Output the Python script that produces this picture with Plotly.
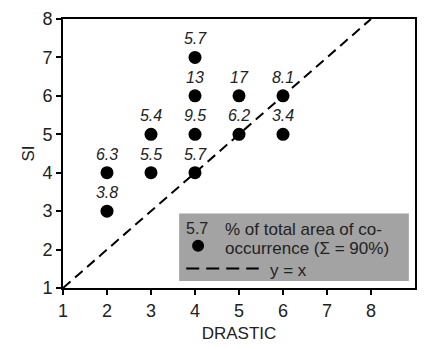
import plotly.graph_objects as go

drastic = [2, 2, 3, 3, 4, 4, 4, 4, 5, 5, 6, 6]
si = [4, 3, 5, 4, 7, 6, 5, 4, 6, 5, 6, 5]
pct = ["6.3", "3.8", "5.4", "5.5", "5.7", "13", "9.5", "5.7", "17", "6.2", "8.1", "3.4"]
line_xy = [1, 8]
x_ticks = [1, 2, 3, 4, 5, 6, 7, 8]
y_ticks = [1, 2, 3, 4, 5, 6, 7, 8]

font_main = "Liberation Sans, Arial, sans-serif"
txt = "#222"

fig = go.Figure()
fig.add_trace(go.Scatter(x=line_xy, y=line_xy, mode="lines",
                         line=dict(color="black", width=2, dash="10px,6px"),
                         showlegend=False, hoverinfo="skip"))
fig.add_trace(go.Scatter(x=drastic, y=si, mode="markers+text", text=pct,
                         textposition="top center",
                         textfont=dict(family=font_main, size=16, color=txt,
                                       style="italic"),
                         marker=dict(color="black", size=13),
                         showlegend=False, cliponaxis=False))

# legend box (decoration)
fig.add_shape(type="rect", xref="x", yref="y", x0=3.64, x1=8.86, y0=1.18, y1=2.94,
              fillcolor="#a3a3a3", line=dict(width=0), layer="below")
fig.add_shape(type="line", xref="x", yref="y", x0=3.80, x1=5.45, y0=1.51, y1=1.51,
              line=dict(color="black", width=2, dash="13px,7px"))
fig.add_shape(type="circle", xref="x", yref="y", xsizemode="pixel", ysizemode="pixel",
              xanchor=4.07, yanchor=2.10, x0=-6, x1=6, y0=-6, y1=6,
              fillcolor="black", line=dict(width=0))
fig.add_annotation(x=4.04, y=2.55, xref="x", yref="y", text="5.7", showarrow=False,
                   font=dict(size=16, color=txt, family=font_main))
fig.add_annotation(x=4.64, y=2.53, xref="x", yref="y",
                   text="% of total area of co-",
                   showarrow=False, xanchor="left", align="left",
                   font=dict(size=17, color=txt, family=font_main))
fig.add_annotation(x=4.64, y=2.02, xref="x", yref="y",
                   text="occurrence (Σ = 90%)",
                   showarrow=False, xanchor="left", align="left",
                   font=dict(size=17, color=txt, family=font_main))
fig.add_annotation(x=6.13, y=1.46, xref="x", yref="y", text="y = x", showarrow=False,
                   font=dict(size=17, color=txt, family=font_main))

axis_common = dict(showgrid=False, zeroline=False, ticks="outside", ticklen=5,
                   tickwidth=2, tickcolor="black", showline=True, linecolor="black",
                   linewidth=2, mirror=True,
                   tickfont=dict(family=font_main, size=18, color=txt))
fig.update_xaxes(range=[1, 9], tickvals=x_ticks,
                 title=dict(text="DRASTIC", font=dict(family=font_main, size=17, color=txt),
                            standoff=8),
                 **axis_common)
fig.update_yaxes(range=[1, 8], tickvals=y_ticks,
                 title=dict(text="SI", font=dict(family=font_main, size=17, color=txt),
                            standoff=3),
                 **axis_common)
fig.update_layout(width=426, height=349, margin=dict(l=63, r=9, t=16, b=59),
                  plot_bgcolor="white", paper_bgcolor="white")
fig.write_html("out.html")
